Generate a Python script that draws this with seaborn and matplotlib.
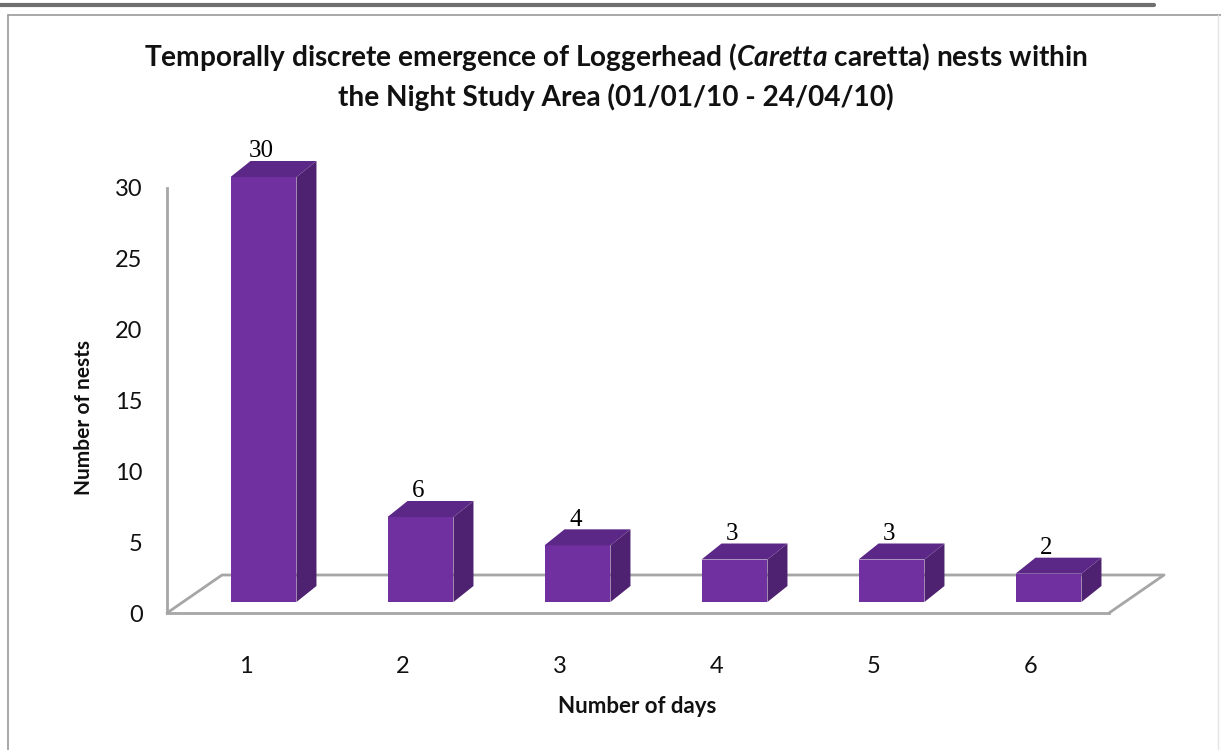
import matplotlib
matplotlib.use("Agg")
import matplotlib.pyplot as plt
import matplotlib.patches as mpatches
import matplotlib.transforms as mtransforms
from matplotlib.lines import Line2D
import pandas as pd
import seaborn as sns

# data
days = ["1", "2", "3", "4", "5", "6"]
nests = [30, 6, 4, 3, 3, 2]
y_ticks = [0, 5, 10, 15, 20, 25, 30]

title_line1 = r"Temporally discrete emergence of Loggerhead ($\mathit{Caretta}$ caretta) nests within"
title_line2 = "the Night Study Area (01/01/10 - 24/04/10)"

front_col = "#7030A0"
side_col = "#4E2171"
top_col = "#5C2888"
grey = "#A6A6A6"

sns.set_style("white")
plt.rcParams["font.family"] = ["Lato", "DejaVu Sans"]
plt.rcParams["mathtext.fontset"] = "custom"
plt.rcParams["mathtext.it"] = "Lato:italic:bold"
plt.rcParams["mathtext.rm"] = "Lato:bold"

DPI = 100
fig = plt.figure(figsize=(12.21, 7.5), dpi=DPI)
W, H = 1221, 750
ax = fig.add_axes([167 / W, 1 - 613 / H, (1109 - 167) / W, (613 - 188) / H])

df = pd.DataFrame({"days": days, "nests": nests})
sns.barplot(data=df, x="days", y="nests", color=front_col, saturation=1,
            width=0.42, ax=ax, zorder=3)

ax.set_xlim(-0.5, len(days) - 0.5)
ax.set_ylim(0, 30)
ax.set_yticks(y_ticks)
ax.set_yticklabels([str(t) for t in y_ticks], fontsize=17, color="#111111")
ax.set_xticks(range(len(days)))
ax.set_xticklabels(days, fontsize=17, color="#111111")
ax.set_xticks([i - 0.5 for i in range(len(days) + 1)], minor=True)
ax.tick_params(axis="x", which="major", length=0, pad=31)
ax.tick_params(axis="x", which="minor", length=6.5, width=1.5, color=grey, direction="out")
ax.tick_params(axis="y", length=6.5, width=1.5, color=grey, direction="out", pad=11)
for s in ["top", "right"]:
    ax.spines[s].set_visible(False)
for s in ["left", "bottom"]:
    ax.spines[s].set_color(grey)
    ax.spines[s].set_linewidth(2)
ax.set_facecolor("none")

ax.set_xlabel("Number of days", fontsize=16, fontweight="bold", color="#111111")
ax.set_ylabel("Number of nests", fontsize=15, fontweight="bold", color="#111111")
ax.xaxis.set_label_coords(0.499, -0.195)
ax.yaxis.set_label_coords(-0.077, 0.46)

# pseudo 3D: offsets in pixels
ident = mtransforms.IdentityTransform()
fdx, fdy = 18, 11      # front face shift into depth
sdx, sdy = 20, 16      # bar depth
floor_dx, floor_dy = 55, 38

x0, y0 = ax.transData.transform((-0.5, 0))
x1, _ = ax.transData.transform((len(days) - 0.5, 0))
floor = [(x0, y0), (x0 + floor_dx, y0 + floor_dy), (x1 + floor_dx, y0 + floor_dy), (x1, y0)]
ax.add_line(Line2D([p[0] for p in floor], [p[1] for p in floor], transform=ident,
                   color=grey, lw=2, clip_on=False, zorder=1))

offset = mtransforms.ScaledTranslation(fdx / DPI, fdy / DPI, fig.dpi_scale_trans)
for patch in ax.patches[:len(nests)]:
    bx, bw, bh = patch.get_x(), patch.get_width(), patch.get_height()
    (lx, by), (rx, ty) = ax.transData.transform([(bx, 0), (bx + bw, bh)])
    lx, rx, by, ty = lx + fdx, rx + fdx, by + fdy, ty + fdy
    patch.set_transform(ax.transData + offset)
    patch.set_clip_on(False)
    patch.set_edgecolor("none")
    side = mpatches.Polygon([(rx, by), (rx + sdx, by + sdy), (rx + sdx, ty + sdy), (rx, ty)],
                            closed=True, transform=ident, facecolor=side_col,
                            edgecolor="none", clip_on=False, zorder=3)
    top = mpatches.Polygon([(lx, ty), (lx + sdx, ty + sdy), (rx + sdx, ty + sdy), (rx, ty)],
                           closed=True, transform=ident, facecolor=top_col,
                           edgecolor="none", clip_on=False, zorder=3)
    ax.add_patch(side)
    ax.add_patch(top)

# value labels
for i, v in enumerate(nests):
    ax.annotate(str(v), xy=(i, v), xytext=(11.5, 18.5), textcoords="offset points",
                ha="center", va="bottom", fontsize=18, family="Liberation Serif",
                color="black", annotation_clip=False, zorder=4)

# title
fig.text(616 / W, 1 - 57 / H, title_line1, ha="center", va="center",
         fontsize=20.2, fontweight="bold", color="#111111")
fig.text(616 / W, 1 - 97 / H, title_line2, ha="center", va="center",
         fontsize=20.2, fontweight="bold", color="#111111")

# frame lines around the chart
fig.add_artist(Line2D([0, 1154 / W], [1 - 5 / H, 1 - 5 / H], color="#6E6E6E", lw=3))
fig.add_artist(Line2D([8 / W, 1], [1 - 15 / H, 1 - 15 / H], color="#9A9A9A", lw=1.2))
fig.add_artist(Line2D([8 / W, 8 / W], [0, 1 - 15 / H], color="#9A9A9A", lw=1.2))
fig.add_artist(Line2D([1218 / W, 1218 / W], [0, 1 - 15 / H], color="#E4E4E4", lw=1))

fig.savefig("out.png", dpi=DPI)
